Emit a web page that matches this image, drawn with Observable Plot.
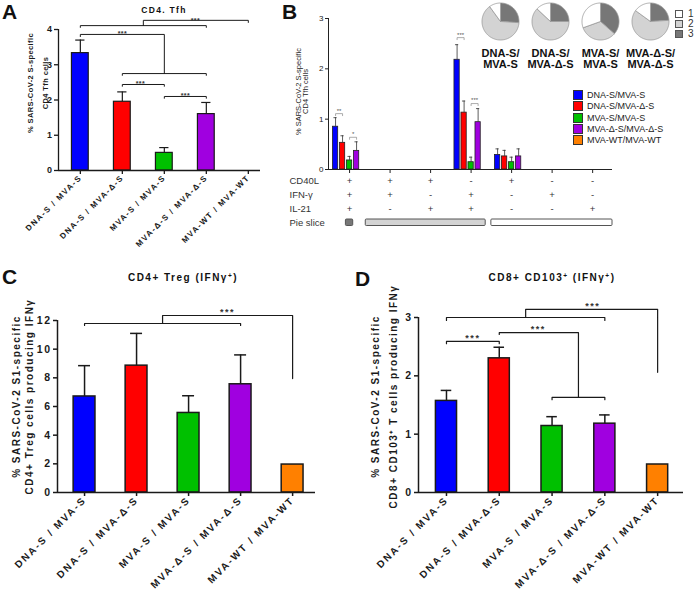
<!DOCTYPE html>
<html><head><meta charset="utf-8">
<script src="https://cdn.jsdelivr.net/npm/d3@7"></script>
<script src="https://cdn.jsdelivr.net/npm/@observablehq/plot@0.6"></script>
<style>
body{margin:0;background:#fff;}
#fig{position:relative;width:696px;height:593px;overflow:hidden;background:#fff;font-family:"Liberation Sans",Arial,sans-serif;color:#111;}
#fig > div, #fig > svg{position:absolute;}
.letter{font-weight:bold;font-size:21px;}
.title{font-weight:bold;white-space:nowrap;transform:translateX(-50%);}
.title sup{font-size:65%;vertical-align:0.45em;line-height:0;}
.pA g[aria-label="x-axis tick label"] text{letter-spacing:1.4px;}
.pC g[aria-label="x-axis tick label"] text,.pD g[aria-label="x-axis tick label"] text{letter-spacing:1.9px;}
</style></head><body><div id="fig"></div>
<script>
// ---------- data ----------
const groups = ["DNA-S / MVA-S", "DNA-S / MVA-Δ-S", "MVA-S / MVA-S", "MVA-Δ-S / MVA-Δ-S", "MVA-WT / MVA-WT"];
const legendNames = ["DNA-S/MVA-S", "DNA-S/MVA-Δ-S", "MVA-S/MVA-S", "MVA-Δ-S/MVA-Δ-S", "MVA-WT/MVA-WT"];
const colors = ["#0000ff", "#ff0000", "#00c000", "#a000e0", "#ff8000"];

// Panel A: CD4 Tfh
const tfhMean = [3.33, 1.95, 0.50, 1.60, 0];
const tfhErr = [0.37, 0.28, 0.15, 0.33, 0];
const tfhTicks = [0, 1, 2, 3, 4];
const tfhSigLines = [
  [[0, 4.06], [0, 4.11], [3, 4.11], [3, 4.06]],
  [[1.5, 4.11], [1.5, 4.26], [4, 4.26], [4, 4.2]],
  [[0, 3.8], [0, 3.86], [2, 3.86], [2, 2.75]],
  [[1, 2.7], [1, 2.75], [3, 2.75], [3, 2.7]],
  [[1, 2.39], [1, 2.44], [2, 2.44], [2, 2.39]],
  [[2, 2.05], [2, 2.1], [3, 2.1], [3, 2.05]]
];
const tfhSigText = [
  {x: 2.74, y: 4.26, t: "***"}, {x: 1.0, y: 3.87, t: "***"},
  {x: 1.43, y: 2.45, t: "***"}, {x: 2.5, y: 2.11, t: "***"}
];

// Panel B: cytokine combinations
const cd40l = ["+", "+", "+", "-", "+", "-", "-"];
const ifng  = ["+", "+", "-", "+", "-", "+", "-"];
const il21  = ["+", "-", "+", "+", "-", "-", "+"];
const bMeans = [
  [0.85, 0, 0, 2.18, 0.29, 0, 0],
  [0.53, 0, 0, 1.13, 0.26, 0, 0],
  [0.18, 0, 0, 0.145, 0.145, 0, 0],
  [0.37, 0, 0, 0.94, 0.26, 0, 0],
  [0, 0, 0, 0, 0, 0, 0]
];
const bErr = [
  [0.18, 0, 0, 0.30, 0.12, 0, 0],
  [0.14, 0, 0, 0.23, 0.12, 0, 0],
  [0.08, 0, 0, 0.10, 0.10, 0, 0],
  [0.18, 0, 0, 0.27, 0.15, 0, 0],
  [0, 0, 0, 0, 0, 0, 0]
];
const bTicks = [0, 1, 2, 3];
const bSig = [
  {g: 0, s1: 0, s2: 1, y: 1.11, t: "**"},
  {g: 0, s1: 2, s2: 3, y: 0.64, t: "*"},
  {g: 3, s1: 0, s2: 1, y: 2.62, t: "***"},
  {g: 3, s1: 2, s2: 3, y: 1.31, t: "***"}
];
const tableRows = ["CD40L", "IFN-γ", "IL-21", "Pie slice"];
const sliceSpans = [{slice: 3, first: 0, last: 0}, {slice: 2, first: 1, last: 3}, {slice: 1, first: 4, last: 6}];

// Pies
const pieNames = ["DNA-S/\nMVA-S", "DNA-S/\nMVA-Δ-S", "MVA-S/\nMVA-S", "MVA-Δ-S/\nMVA-Δ-S"];
const pieSlice3 = [0.26, 0.25, 0.365, 0.24];
const pieSlice2 = [0.64, 0.62, 0.33, 0.61];
const pieSlice1 = [0.10, 0.13, 0.305, 0.15];
const pieKeys = ["1", "2", "3"];
const sliceFill = {3: "#777777", 2: "#d3d3d3", 1: "#ffffff"};

// Panel C: CD4+ Treg
const tregMean = [6.7, 8.85, 5.55, 7.55, 1.95];
const tregErr = [2.15, 2.25, 1.2, 2.05, 0];
const tregTicks = [0, 2, 4, 6, 8, 10, 12];
const tregSigLines = [
  [[0, 11.65], [0, 11.79], [3, 11.79], [3, 11.65]],
  [[1.5, 11.79], [1.5, 12.35], [4, 12.35], [4, 7.95]]
];
const tregSigText = [{x: 2.75, y: 12.58, t: "***"}];

// Panel D: CD8+ CD103+
const cd8Mean = [1.57, 2.30, 1.14, 1.18, 0.48];
const cd8Err = [0.18, 0.19, 0.16, 0.15, 0];
const cd8Ticks = [0, 1, 2, 3];
const cd8SigLines = [
  [[0, 2.95], [0, 3.0], [3, 3.0], [3, 2.95]],
  [[1.5, 3.0], [1.5, 3.14], [4, 3.14], [4, 2.06]],
  [[0, 2.55], [0, 2.59], [1, 2.59], [1, 2.55]],
  [[1, 2.71], [1, 2.74], [2.5, 2.74], [2.5, 1.63]],
  [[2, 1.59], [2, 1.63], [3, 1.63], [3, 1.59]]
];
const cd8SigText = [
  {x: 2.77, y: 3.2, t: "***"}, {x: 0.5, y: 2.65, t: "***"}, {x: 1.74, y: 2.8, t: "***"}
];

// ---------- drawing ----------
const FONT = '"Liberation Sans", Arial, sans-serif';
const fig = document.getElementById("fig");
function place(el, left, top) { el.style.position = "absolute"; el.style.left = left + "px"; el.style.top = top + "px"; fig.appendChild(el); return el; }
function html(tag, cls, inner, css) { const e = document.createElement(tag); if (cls) e.className = cls; e.innerHTML = inner; Object.assign(e.style, css || {}); fig.appendChild(e); return e; }

// rotated (-90°) two-line axis title, centred on the frame's left edge and shifted by (sx, sy) on screen
function yLabel(text, sx, sy, fs, lh, weight) {
  return Plot.text([text], {text: d => d, frameAnchor: "left", textAnchor: "middle", lineAnchor: "middle",
    rotate: -90, dx: sx, dy: sy, fontSize: fs, fontWeight: weight, lineHeight: lh});
}

function barPanel(o) {
  const bars = o.means.map((v, i) => ({i, v, e: o.errs[i], color: colors[i]}));
  const sigPts = o.sigLines.flatMap((pts, k) => pts.map(([x, y]) => ({x, y, k})));
  const ink = "#1a1a1a";
  return Plot.plot({
    className: o.cls,
    width: o.width, height: o.height,
    marginLeft: o.ml, marginRight: o.mr, marginTop: o.mt, marginBottom: o.mb,
    x: {domain: o.xDomain}, y: {domain: [0, o.yMax]}, color: {type: "identity"},
    style: {background: "transparent", overflow: "visible", fontFamily: FONT, fontWeight: "bold",
            fontSize: o.tickFs + "px", letterSpacing: o.ls + "px", color: ink},
    marks: [
      Plot.rectY(bars.filter(d => d.v > 0), {x1: d => d.i - o.barHalf, x2: d => d.i + o.barHalf, y1: 0, y2: "v",
        fill: "color", stroke: ink, strokeWidth: o.sw}),
      Plot.ruleX(bars.filter(d => d.e > 0), {x: "i", y1: "v", y2: d => d.v + d.e, stroke: ink, strokeWidth: o.sw}),
      Plot.ruleY(bars.filter(d => d.e > 0), {y: d => d.v + d.e, x1: d => d.i - o.cap, x2: d => d.i + o.cap, stroke: ink, strokeWidth: o.sw}),
      Plot.line(sigPts, {x: "x", y: "y", z: "k", stroke: ink, strokeWidth: o.sigW}),
      Plot.text(o.sigText, {x: "x", y: "y", text: "t", fontSize: o.sigFs, fontWeight: "bold", fill: "#333"}),
      Plot.ruleY([0], {stroke: ink, strokeWidth: o.axW}),
      Plot.ruleX([o.xDomain[0]], {stroke: ink, strokeWidth: o.axW}),
      Plot.axisY({ticks: o.yTicks, tickFormat: d => String(d), tickSize: 4, tickPadding: o.yPad, fontSize: o.tickFs, fontWeight: "bold", label: null, strokeWidth: o.axW}),
      Plot.axisX({ticks: groups.map((_, i) => i), tickFormat: i => groups[i], tickRotate: -45, tickSize: 4, tickPadding: 2,
        fontSize: o.xFs, fontWeight: "bold", label: null, strokeWidth: o.axW}),
      yLabel(o.ylabel, o.ylDx, o.ylDy, o.ylFs, o.ylLh, "bold")
    ]
  });
}

// Panel A
place(barPanel({
  cls: "pA", width: 262, height: 290, ml: 58, mr: 2, mt: 29, mb: 120,
  xDomain: [-0.52, 4.29], yMax: 4, yTicks: tfhTicks,
  means: tfhMean, errs: tfhErr, sigLines: tfhSigLines, sigText: tfhSigText,
  barHalf: 0.2, cap: 0.11, sw: 1.2, axW: 1.3, sigW: 1, sigFs: 7, tickFs: 9, yPad: 2, xFs: 8, ls: 0.4,
  ylabel: "% SARS-CoV-2 S-specific\nCD4 Tfh cells", ylDx: -22.5, ylDy: -17, ylFs: 7.5, ylLh: 1.9
}), 0, 0);

// Panel C
place(barPanel({
  cls: "pC", width: 340, height: 323, ml: 57, mr: 25, mt: 50, mb: 101,
  xDomain: [-0.52, 4.44], yMax: 12, yTicks: tregTicks,
  means: tregMean, errs: tregErr, sigLines: tregSigLines, sigText: tregSigText,
  barHalf: 0.21, cap: 0.115, sw: 1.5, axW: 1.5, sigW: 1.2, sigFs: 9, tickFs: 10.5, yPad: 2, xFs: 10, ls: 1.5,
  ylabel: "% SARS-CoV-2 S1-specific\nCD4+ Treg cells producing IFNγ", ylDx: -35.5, ylDy: -10, ylFs: 10, ylLh: 1.3
}), 0, 270);

// Panel D
place(barPanel({
  cls: "pD", width: 356, height: 323, ml: 78, mr: 13, mt: 47, mb: 101,
  xDomain: [-0.53, 4.49], yMax: 3, yTicks: cd8Ticks,
  means: cd8Mean, errs: cd8Err, sigLines: cd8SigLines, sigText: cd8SigText,
  barHalf: 0.2, cap: 0.1, sw: 1.5, axW: 1.5, sigW: 1.2, sigFs: 9, tickFs: 10.5, yPad: 2, xFs: 10, ls: 1.5,
  ylabel: "% SARS-CoV-2 S1-specific\nCD8+ CD103⁺ T cells producing IFNγ", ylDx: -36, ylDy: -8.5, ylFs: 10, ylLh: 1.75
}), 340, 270);

// Panel B
const xDomB = [-0.52, 6.49];
const off = s => (s - 2) * 0.173;
const bBars = [];
bMeans.forEach((arr, s) => arr.forEach((v, g) => bBars.push({s, g, v, e: bErr[s][g], color: colors[s]})));
const bSigPts = bSig.flatMap((d, k) => {
  const a = d.g + off(d.s1), b = d.g + off(d.s2);
  return [[a, d.y - 0.04], [a, d.y], [b, d.y], [b, d.y - 0.04]].map(([x, y]) => ({x, y, k}));
});
place(Plot.plot({
  width: 436, height: 176, marginLeft: 68, marginRight: 84, marginTop: 18, marginBottom: 7,
  x: {domain: xDomB}, y: {domain: [0, 3]}, color: {type: "identity"},
  style: {background: "transparent", overflow: "visible", fontFamily: FONT, fontSize: "8px", color: "#222"},
  marks: [
    Plot.rectY(bBars.filter(d => d.v > 0), {x1: d => d.g + off(d.s) - 0.065, x2: d => d.g + off(d.s) + 0.065, y1: 0, y2: "v",
      fill: "color", stroke: "#222", strokeWidth: 0.8}),
    Plot.ruleX(bBars.filter(d => d.e > 0), {x: d => d.g + off(d.s), y1: "v", y2: d => d.v + d.e, stroke: "#333", strokeWidth: 0.8}),
    Plot.ruleY(bBars.filter(d => d.e > 0), {y: d => d.v + d.e, x1: d => d.g + off(d.s) - 0.04, x2: d => d.g + off(d.s) + 0.04, stroke: "#333", strokeWidth: 0.8}),
    Plot.line(bSigPts, {x: "x", y: "y", z: "k", stroke: "#888", strokeWidth: 0.7}),
    Plot.text(bSig, {x: d => d.g + (off(d.s1) + off(d.s2)) / 2, y: "y", text: "t", dy: -3, fontSize: 6, fill: "#555"}),
    Plot.ruleY([0], {stroke: "#222", strokeWidth: 1}),
    Plot.ruleX([xDomB[0]], {stroke: "#222", strokeWidth: 1}),
    Plot.axisY({ticks: bTicks, tickFormat: d => String(d), tickSize: 3, tickPadding: 2, fontSize: 8, label: null}),
    Plot.axisX({ticks: d3.range(7), tickFormat: () => "", tickSize: 4, label: null}),
    yLabel("% SARS-CoV-2 S-specific\nCD4 Tfh cells", -26.5, -2.5, 7.5, 1.05, "normal")
  ]
}), 260, 0);

// Table under panel B
const cells = [];
[cd40l, ifng, il21].forEach((row, r) => row.forEach((t, g) => cells.push({g, row: tableRows[r], t})));
const padL = [0.09, 0.6, 0.5], padR = [0.09, 0.36, 0.49];
place(Plot.plot({
  width: 436, height: 58, marginLeft: 68, marginRight: 84, marginTop: 0, marginBottom: 0,
  x: {domain: xDomB, axis: null}, y: {domain: tableRows, axis: null, padding: 0}, color: {type: "identity"},
  style: {background: "transparent", overflow: "visible", fontFamily: FONT, fontSize: "9px", color: "#333"},
  marks: [
    Plot.text(cells, {x: "g", y: "row", text: "t", fontSize: 9.5}),
    Plot.text(tableRows, {y: d => d, text: d => d, frameAnchor: "left", dx: -39, textAnchor: "start", fontSize: 9.5}),
    Plot.barX(sliceSpans, {x1: (d, i) => d.first - padL[i], x2: (d, i) => d.last + padR[i], y: () => "Pie slice",
      fill: d => sliceFill[d.slice], stroke: "#555", strokeWidth: 1, insetTop: 4, insetBottom: 3.5, rx: 1})
  ]
}), 260, 172);

// Pies
const R = 0.37;
const piePolys = [];
pieNames.forEach((name, i) => {
  const arcs = d3.pie().sort(null).value(d => d.f)([
    {k: 3, f: pieSlice3[i]}, {k: 2, f: pieSlice2[i]}, {k: 1, f: pieSlice1[i]}
  ]);
  arcs.forEach(a => {
    const id = i + "-" + a.data.k, fill = sliceFill[a.data.k];
    piePolys.push({id, x: i, y: 0, fill});
    const n = Math.max(2, Math.ceil((a.endAngle - a.startAngle) / 0.04));
    for (let j = 0; j <= n; j++) {
      const t = a.startAngle + (a.endAngle - a.startAngle) * j / n;
      piePolys.push({id, x: i + R * Math.sin(t), y: R * Math.cos(t), fill});
    }
    piePolys.push({id, x: i, y: 0, fill});
  });
});
place(Plot.plot({
  width: 200, height: 72, marginLeft: 0, marginRight: 0, marginTop: 0, marginBottom: 0,
  x: {domain: [-0.5, 3.5], axis: null}, y: {domain: [-1.02, 0.42], axis: null}, color: {type: "identity"},
  style: {background: "transparent", overflow: "visible", fontFamily: FONT, color: "#111"},
  marks: [
    Plot.line(piePolys, {x: "x", y: "y", z: "id", fill: "fill", stroke: "#999", strokeWidth: 0.8}),
    Plot.text(pieNames, {x: (d, i) => i, text: d => d, frameAnchor: "top", dy: 48.5, lineAnchor: "top",
      fontSize: 11, fontWeight: "bold", lineHeight: 1.0})
  ]
}), 475, 0);

// Pie legend (HTML)
pieKeys.forEach((k, j) => {
  html("div", "", "", {left: "675px", top: (10 + j * 10) + "px", width: "8px", height: "8px", boxSizing: "border-box",
    border: "1px solid #555", background: sliceFill[+k]});
  html("div", "", k, {left: "688px", top: (8 + j * 10) + "px", fontSize: "10px", lineHeight: "11px", color: "#333"});
});

// Panel B colour legend (HTML)
legendNames.forEach((n, i) => {
  html("div", "", "", {left: "573px", top: (90 + i * 11.3) + "px", width: "10px", height: "10px", boxSizing: "border-box",
    border: "1px solid #333", background: colors[i]});
  html("div", "", n, {left: "587px", top: (90 + i * 11.3) + "px", fontSize: "9px", lineHeight: "10px", color: "#222", whiteSpace: "nowrap"});
});

// Panel letters and titles (HTML)
html("div", "letter", "A", {left: "2px", top: "0px"});
html("div", "letter", "B", {left: "282px", top: "0px"});
html("div", "letter", "C", {left: "2px", top: "265px"});
html("div", "letter", "D", {left: "355px", top: "267px"});
html("div", "title", "CD4. Tfh", {left: "164px", top: "6px", fontSize: "8.5px", lineHeight: "9px", letterSpacing: "1.3px"});
html("div", "title", "CD4+ Treg (IFNγ<sup>+</sup>)", {left: "183px", top: "273px", fontSize: "10px", lineHeight: "10px", letterSpacing: "1.5px"});
html("div", "title", "CD8+ CD103<sup>+</sup> (IFNγ<sup>+</sup>)", {left: "552px", top: "273px", fontSize: "10px", lineHeight: "10px", letterSpacing: "1.5px"});
</script></body></html>
